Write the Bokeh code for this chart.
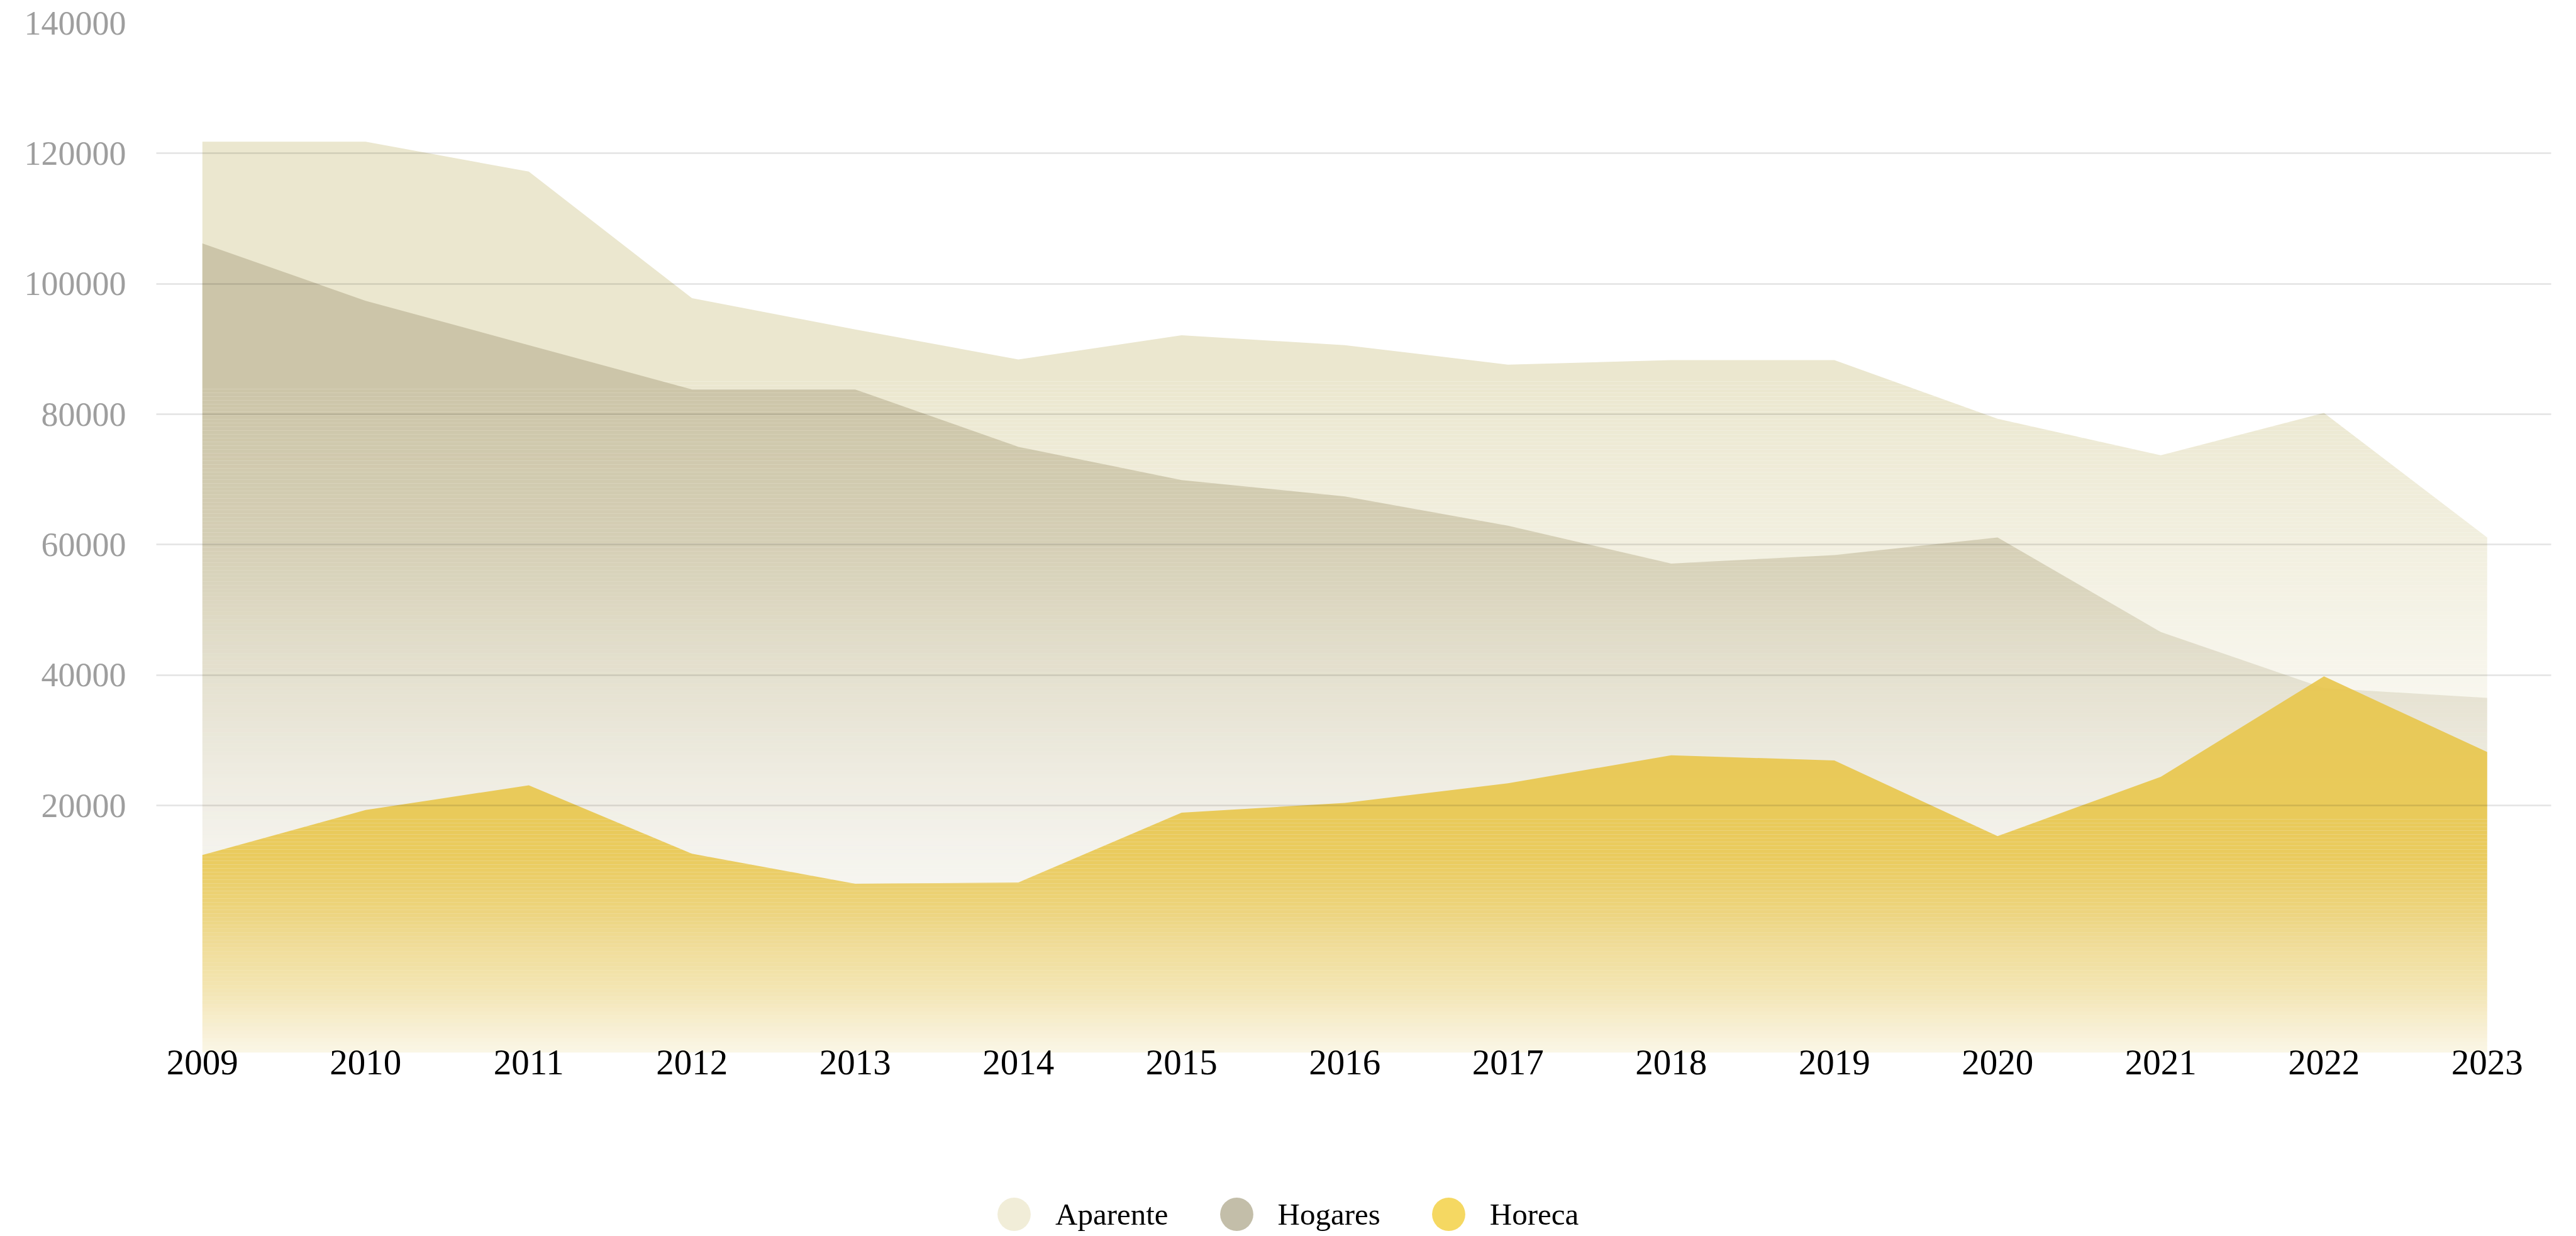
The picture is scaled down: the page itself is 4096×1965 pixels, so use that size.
import numpy as np
from bokeh.plotting import figure
from bokeh.layouts import column
from bokeh.models import FixedTicker, Legend, LegendItem, Range1d, NumeralTickFormatter, ColumnDataSource
from bokeh.embed import file_html
from bokeh.resources import INLINE

# ---------------- data ----------------
years = [2009, 2010, 2011, 2012, 2013, 2014, 2015, 2016, 2017, 2018, 2019, 2020, 2021, 2022, 2023]
aparente = [121800, 121800, 117200, 97800, 93000, 88400, 92100, 90600, 87600, 88300, 88300, 79300, 73700, 80200, 61100]
hogares = [106200, 97400, 90600, 83800, 83800, 75000, 69900, 67400, 62900, 57100, 58400, 61100, 46600, 38000, 36500]
horeca = [12400, 19300, 23100, 12600, 8000, 8200, 18900, 20400, 23400, 27700, 26900, 15300, 24400, 39800, 28200]
series_names = ["Aparente", "Hogares", "Horeca"]
y_ticks = [20000, 40000, 60000, 80000, 100000, 120000, 140000]

# ---------------- style ----------------
Y_MIN, Y_MAX = -17900, 140000
FONT = "Liberation Serif"
area_colors = ["#ebe7cf", "#ccc5a9", "#e8c54a"]
legend_colors = ["#f1edd8", "#c3bea9", "#f5d862"]
# vertical gradient ramps (value -> opacity)
ramps = [
    ([Y_MIN, 15000, 85000], [0.0, 0.05, 1.0]),
    ([Y_MIN, 10000, 26000, 44000, 62000, 84000], [0.03, 0.17, 0.28, 0.48, 0.8, 1.0]),
    ([Y_MIN, -15000, -8000, -1000, 5000, 12000, 18000], [0.12, 0.2, 0.4, 0.55, 0.72, 0.88, 0.9]),
]
W, H_MAIN, H_LEG = 4092, 1788, 175
B_LEFT, B_RIGHT, B_TOP, B_BOTTOM = 248, 36, 36, 115
FRAME_H = H_MAIN - B_TOP - B_BOTTOM
BAND_PX = 6


def strip_poly(xv, yv, a, b):
    px, py = [], []
    for i in range(len(xv) - 1):
        x0, x1, y0, y1 = xv[i], xv[i + 1], yv[i], yv[i + 1]
        ts = [0.0]
        for lev in (a, b):
            if (y0 - lev) * (y1 - lev) < 0:
                ts.append((lev - y0) / (y1 - y0))
        ts.sort()
        for t in ts:
            px.append(x0 + t * (x1 - x0))
            py.append(min(max(y0 + t * (y1 - y0), a), b))
    px.append(xv[-1])
    py.append(min(max(yv[-1], a), b))
    return px + [xv[-1], xv[0]], py + [a, a]


def gradient_strips(xv, yv, ramp_v, ramp_a):
    """Non-overlapping horizontal strips (aligned to pixel rows) of the area, each with its own opacity."""
    xv = [float(v) for v in xv]
    yv = [float(v) for v in yv]
    px_val = (Y_MAX - Y_MIN) / FRAME_H
    bounds = sorted(set([Y_MIN] + [Y_MAX - k * px_val for k in range(0, FRAME_H, BAND_PX)]))
    top = max(yv)
    strips = []
    for a, b in zip(bounds[:-1], bounds[1:]):
        if a >= top:
            break
        al = float(np.interp(0.5 * (a + b), ramp_v, ramp_a))
        if strips and abs(strips[-1][2] - al) < 1e-6:
            strips[-1][1] = b
        else:
            strips.append([a, b, al])
    xs, ys, alphas = [], [], []
    for a, b, al in strips:
        if al < 0.003:
            continue
        sx, sy = strip_poly(xv, yv, a, b)
        xs.append(sx)
        ys.append(sy)
        alphas.append(al)
    return xs, ys, alphas


p = figure(width=W, height=H_MAIN,
           x_range=Range1d(2008.7175, 2023.392), y_range=Range1d(Y_MIN, Y_MAX),
           output_backend="svg", toolbar_location=None,
           min_border_left=B_LEFT, min_border_right=B_RIGHT, min_border_top=B_TOP, min_border_bottom=B_BOTTOM,
           outline_line_color=None, background_fill_color="white", border_fill_color="white")

for vals, col, (rv, ra) in zip([aparente, hogares, horeca], area_colors, ramps):
    xs, ys, al = gradient_strips(years, vals, rv, ra)
    src = ColumnDataSource(dict(xs=xs, ys=ys, a=al))
    p.patches("xs", "ys", source=src, fill_color=col, fill_alpha="a", line_color=None)

# axes
p.xaxis.ticker = FixedTicker(ticks=years)
p.xaxis.major_label_text_font = FONT
p.xaxis.major_label_text_font_size = "57px"
p.xaxis.major_label_text_color = "#000000"
p.xaxis.major_label_standoff = -10
p.xaxis.axis_line_color = None
p.xaxis.major_tick_line_color = None
p.xaxis.minor_tick_line_color = None

p.yaxis.ticker = FixedTicker(ticks=y_ticks)
p.yaxis.formatter = NumeralTickFormatter(format="0")
p.yaxis.major_label_text_font = FONT
p.yaxis.major_label_text_font_size = "54px"
p.yaxis.major_label_text_color = "#9e9e9e"
p.yaxis.major_label_standoff = 42
p.yaxis.axis_line_color = None
p.yaxis.major_tick_line_color = None
p.yaxis.minor_tick_line_color = None

p.xgrid.visible = False
p.ygrid.ticker = FixedTicker(ticks=y_ticks)
p.ygrid.grid_line_color = "#000000"
p.ygrid.grid_line_alpha = 0.11
p.ygrid.grid_line_width = 2.5
p.ygrid.level = "overlay"

# ---------------- legend (separate strip below the chart) ----------------
pl = figure(width=W, height=H_LEG, x_range=Range1d(0, 1), y_range=Range1d(0, 1),
            output_backend="svg", toolbar_location=None, min_border=0,
            min_border_left=0, min_border_right=0, min_border_top=0, min_border_bottom=0,
            x_axis_location=None, y_axis_location=None, outline_line_color=None,
            background_fill_color="white", border_fill_color="white")
pl.grid.visible = False
legend_items = []
for name, col in zip(series_names, legend_colors):
    src = ColumnDataSource(dict(x=[float("nan")], y=[float("nan")]))
    r = pl.scatter("x", "y", source=src, marker="circle", size=10, fill_color=col, line_color=None)
    legend_items.append(LegendItem(label=name, renderers=[r]))

legend = Legend(items=legend_items, orientation="horizontal", location=(1298, -33),
                glyph_width=132, glyph_height=132, label_standoff=0, spacing=42,
                padding=0, margin=0, border_line_color=None, background_fill_alpha=0,
                label_text_font=FONT, label_text_font_size="49px", label_text_color="#000000")
pl.add_layout(legend)

layout = column(p, pl, spacing=0)
open("out.html", "w").write(file_html(layout, INLINE))
